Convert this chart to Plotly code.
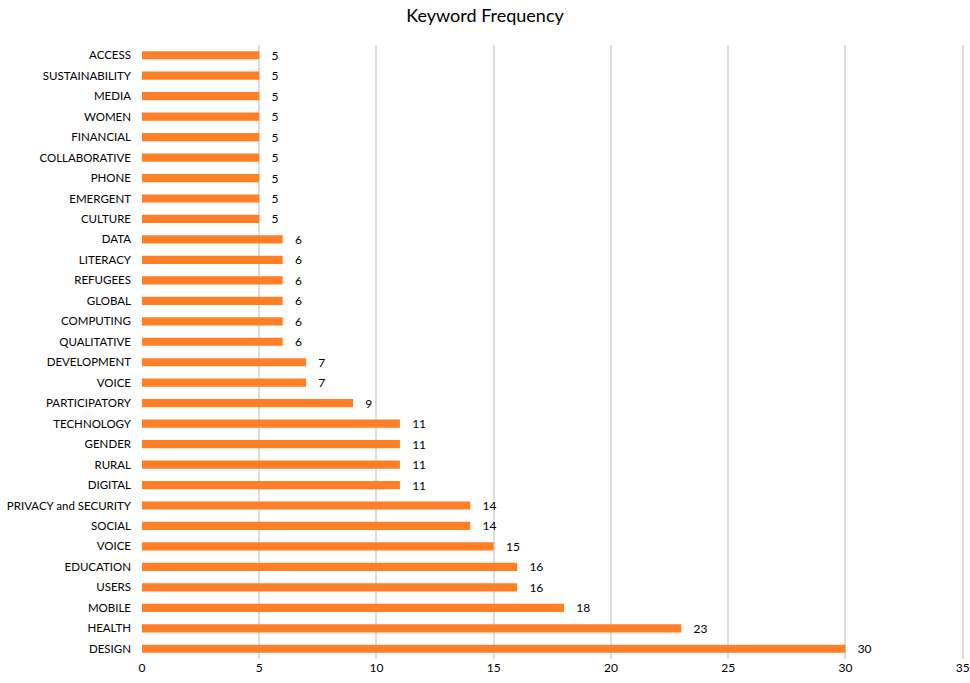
import plotly.graph_objects as go

keywords = ["DESIGN", "HEALTH", "MOBILE", "USERS", "EDUCATION", "VOICE", "SOCIAL",
            "PRIVACY and SECURITY", "DIGITAL", "RURAL", "GENDER", "TECHNOLOGY",
            "PARTICIPATORY", "VOICE", "DEVELOPMENT", "QUALITATIVE", "COMPUTING",
            "GLOBAL", "REFUGEES", "LITERACY", "DATA", "CULTURE", "EMERGENT", "PHONE",
            "COLLABORATIVE", "FINANCIAL", "WOMEN", "MEDIA", "SUSTAINABILITY", "ACCESS"]
counts = [30, 23, 18, 16, 16, 15, 14, 14, 11, 11, 11, 11, 9, 7, 7, 6, 6, 6, 6, 6, 6,
          5, 5, 5, 5, 5, 5, 5, 5, 5]
x_ticks = [0, 5, 10, 15, 20, 25, 30, 35]

positions = list(range(len(keywords)))

font_family = "Lato, 'Open Sans', sans-serif"

fig = go.Figure(go.Bar(
    x=counts,
    y=positions,
    orientation="h",
    marker=dict(color="#FF7F27", line=dict(width=0)),
    text=[str(c) for c in counts],
    texttemplate="   %{text}",
    textposition="outside",
    constraintext="none",
    textfont=dict(size=12, color="#000000", family=font_family),
    cliponaxis=False,
    width=0.4,
))

fig.update_layout(
    width=970,
    height=683,
    margin=dict(l=142, r=5, t=45, b=24, autoexpand=False),
    paper_bgcolor="white",
    plot_bgcolor="white",
    title=dict(text="Keyword Frequency", x=0.5, xanchor="center", y=0.977, yanchor="middle",
               font=dict(size=18, color="#000000", family=font_family)),
    font=dict(family=font_family, size=12, color="#000000"),
    showlegend=False,
    xaxis=dict(
        range=[0, 35.1],
        tickvals=x_ticks,
        ticktext=[str(t) for t in x_ticks],
        showgrid=True,
        gridcolor="#DDDDDD",
        gridwidth=1.5,
        zeroline=False,
        showline=False,
        ticks="",
        automargin=False,
        tickfont=dict(size=12, color="#000000"),
    ),
    yaxis=dict(
        range=[-0.5, len(keywords) - 0.5],
        tickvals=positions,
        ticktext=keywords,
        showgrid=False,
        zeroline=False,
        showline=False,
        ticks="",
        automargin=False,
        ticklabelstandoff=10,
        tickfont=dict(size=11.5, color="#000000"),
    ),
)

fig.write_html("out.html")
